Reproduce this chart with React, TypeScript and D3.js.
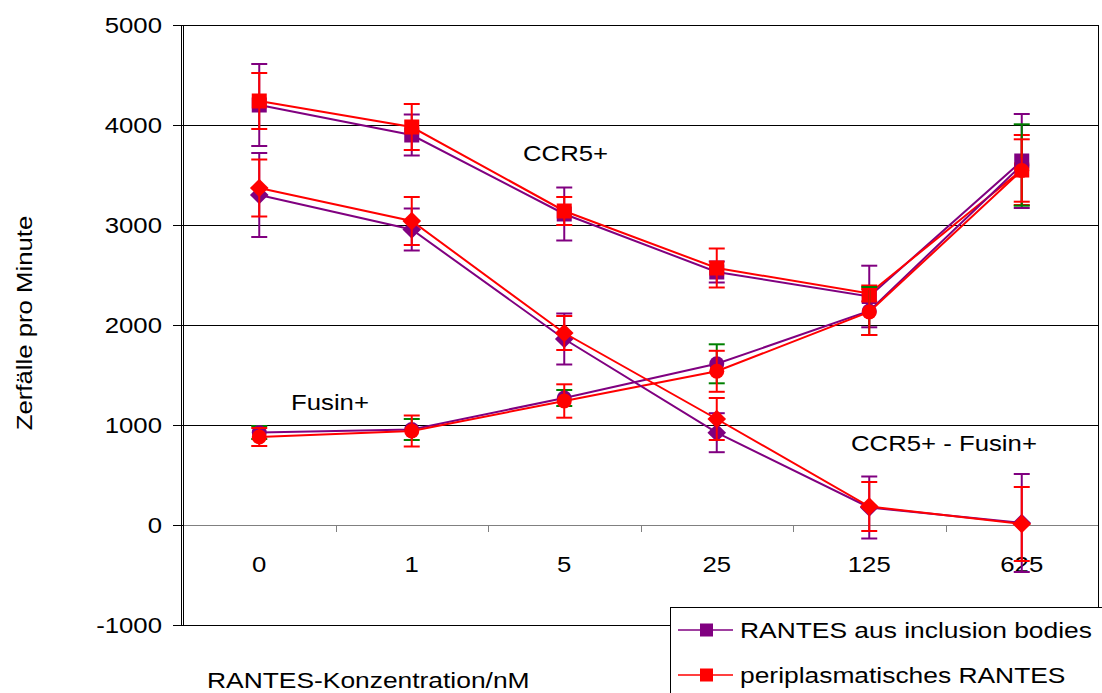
import React from "react";
import * as d3 from "d3";

const categories = ["0", "1", "5", "25", "125", "625"];
const yTicks = [-1000, 0, 1000, 2000, 3000, 4000, 5000];
const gridValues = [1000, 2000, 3000, 4000];

const ccr5Purple = [4200, 3900, 3110, 2530, 2285, 3640];
const ccr5PurpleErr = [410, 205, 265, 105, 308, 470];
const ccr5Red = [4240, 3980, 3140, 2570, 2315, 3550];
const ccr5RedErr = [280, 230, 140, 195, 80, 350];

const fusinPurple = [925, 955, 1270, 1612, 2140, 3600];
const fusinPurpleErr = [65, 105, 80, 195, 240, 407];
const fusinRed = [880, 940, 1240, 1537, 2130, 3545];
const fusinRedErr = [90, 155, 167, 205, 230, 312];

const diffPurple = [3300, 2955, 1860, 923, 175, 20];
const diffPurpleErr = [420, 210, 255, 195, 310, 490];
const diffRed = [3370, 3040, 1920, 1060, 185, 10];
const diffRedErr = [285, 240, 170, 210, 245, 370];

const legendLabels = ["RANTES aus inclusion bodies", "periplasmatisches RANTES"];

const PURPLE = "#800080";
const RED = "#FF0000";
const GREEN = "#008000";

type Series = {
  values: number[];
  errs: number[];
  color: string;
  errColor: string;
  marker: "square" | "circle" | "diamond";
};

const seriesList: Series[] = [
  { values: ccr5Purple, errs: ccr5PurpleErr, color: PURPLE, errColor: PURPLE, marker: "square" },
  { values: ccr5Red, errs: ccr5RedErr, color: RED, errColor: RED, marker: "square" },
  { values: fusinPurple, errs: fusinPurpleErr, color: PURPLE, errColor: GREEN, marker: "circle" },
  { values: fusinRed, errs: fusinRedErr, color: RED, errColor: RED, marker: "circle" },
  { values: diffPurple, errs: diffPurpleErr, color: PURPLE, errColor: PURPLE, marker: "diamond" },
  { values: diffRed, errs: diffRedErr, color: RED, errColor: RED, marker: "diamond" },
];

const FONT = "'Liberation Sans', Arial, sans-serif";
const FS = 22;
const SX = 1.17;

function T(props: { x: number; y: number; anchor?: string; rotate?: number; sx?: number; children: React.ReactNode }) {
  const { x, y, anchor = "start", rotate = 0, sx = SX, children } = props;
  return (
    <text
      transform={`translate(${x},${y}) rotate(${rotate}) scale(${sx},1)`}
      textAnchor={anchor}
      fontFamily={FONT}
      fontSize={FS}
      fill="#000"
    >
      {children}
    </text>
  );
}

function Marker(props: { type: string; x: number; y: number; color: string; size: number }) {
  const { type, x, y, color, size } = props;
  if (type === "square") {
    return <rect x={x - size / 2} y={y - size / 2} width={size} height={size} fill={color} />;
  }
  if (type === "circle") {
    return <circle cx={x} cy={y} r={size / 2} fill={color} />;
  }
  const h = size * 0.62;
  return <path d={`M${x},${y - h}L${x + h},${y}L${x},${y + h}L${x - h},${y}Z`} fill={color} />;
}

export default function App() {
  const left = 183;
  const right = 1098;
  const top = 25;
  const bottom = 625;

  const x = d3.scaleBand<string>().domain(categories).range([left, right]).paddingInner(0).paddingOuter(0);
  const y = d3.scaleLinear().domain([-1000, 5000]).range([bottom, top]);
  const cx = (c: string) => (x(c) as number) + x.bandwidth() / 2;

  const line = d3
    .line<number>()
    .x((_, i) => cx(categories[i]))
    .y((d) => y(d));

  const capW = 8;

  return (
    <svg
      width={1102}
      height={693}
      style={{ position: "absolute", left: 0, top: 0, background: "#fff" }}
    >
      <rect x={0} y={0} width={1102} height={693} fill="#fff" />
      {gridValues.map((v) => (
        <line key={v} x1={left} x2={right} y1={y(v) + 0.5} y2={y(v) + 0.5} stroke="#000" strokeWidth={1} />
      ))}
      <line x1={left} x2={right} y1={y(0) + 0.5} y2={y(0) + 0.5} stroke="#808080" strokeWidth={1} />
      {categories.slice(1).map((c) => (
        <line
          key={"xt" + c}
          x1={Math.round(x(c) as number) + 0.5}
          x2={Math.round(x(c) as number) + 0.5}
          y1={y(0)}
          y2={y(0) + 7}
          stroke="#808080"
        />
      ))}
      <rect x={left + 0.5} y={top + 0.5} width={right - left} height={bottom - top} fill="none" stroke="#000" />
      <line x1={left - 1.5} x2={left - 1.5} y1={top} y2={bottom} stroke="#000" />
      {yTicks.map((v) => (
        <g key={"yt" + v}>
          <line x1={left - 10} x2={left} y1={y(v) + 0.5} y2={y(v) + 0.5} stroke="#000" />
          <T x={162} y={y(v) + 8} anchor="end">
            {String(v)}
          </T>
        </g>
      ))}
      {categories.map((c) => (
        <T key={"xl" + c} x={cx(c)} y={572} anchor="middle">
          {c}
        </T>
      ))}

      {seriesList.map((s, si) => (
        <g key={"s" + si}>
          {s.values.map((v, i) => {
            const px = cx(categories[i]);
            const y1 = y(v + s.errs[i]);
            const y2 = y(v - s.errs[i]);
            return (
              <g key={"e" + i} stroke={s.errColor} strokeWidth={2}>
                <line x1={px} x2={px} y1={y1} y2={y2} />
                <line x1={px - capW} x2={px + capW} y1={y1} y2={y1} />
                <line x1={px - capW} x2={px + capW} y1={y2} y2={y2} />
              </g>
            );
          })}
          <path d={line(s.values) || ""} fill="none" stroke={s.color} strokeWidth={2} />
          {s.values.map((v, i) => (
            <Marker key={"m" + i} type={s.marker} x={cx(categories[i])} y={y(v)} color={s.color} size={15} />
          ))}
        </g>
      ))}

      <T x={523} y={161}>CCR5+</T>
      <T x={291} y={410}>Fusin+</T>
      <T x={851} y={451}>CCR5+ - Fusin+</T>

      <T x={32} y={323} anchor="middle" rotate={-90}>
        Zerfälle pro Minute
      </T>
      <T x={207} y={688} sx={1.2}>RANTES-Konzentration/nM</T>

      <rect x={670.5} y={607.5} width={450} height={120} fill="#fff" stroke="#000" />
      {legendLabels.map((lbl, i) => {
        const ly = 630 + i * 45;
        const col = i === 0 ? PURPLE : RED;
        return (
          <g key={"lg" + i}>
            <line x1={678} x2={733} y1={ly} y2={ly} stroke={col} strokeWidth={1.5} />
            <rect x={700} y={ly - 6.5} width={13} height={13} fill={col} />
            <T x={740} y={ly + 8} sx={1.2}>
              {lbl}
            </T>
          </g>
        );
      })}
    </svg>
  );
}
